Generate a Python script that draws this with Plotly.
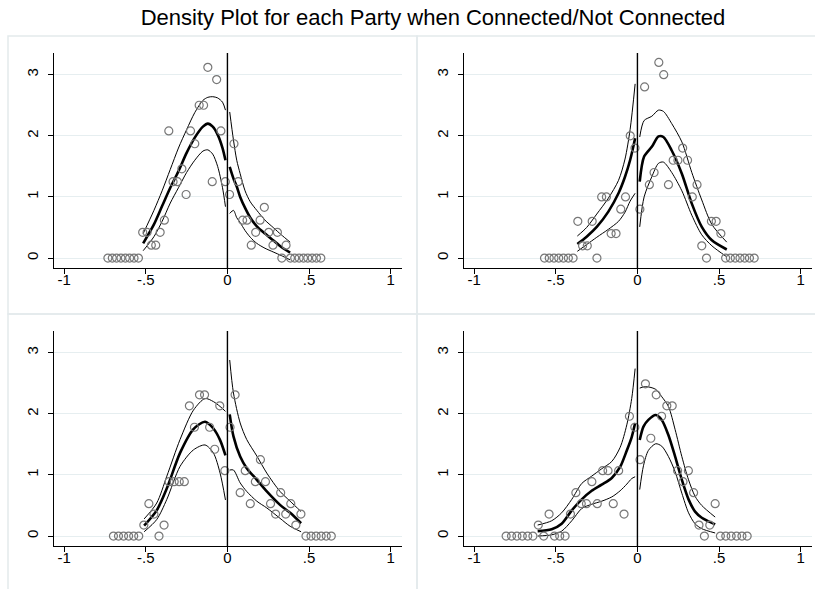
import plotly.graph_objects as go

TITLE = "Density Plot for each Party when Connected/Not Connected"

x_tick_vals = [-1, -0.5, 0, 0.5, 1]
x_tick_text = ["-1", "-.5", "0", ".5", "1"]
y_tick_vals = [0, 1, 2, 3]
y_tick_text = ["0", "1", "2", "3"]

# ---- Panel 1: binned densities ----
p1_bin_x = [-0.732, -0.705, -0.679, -0.652, -0.625, -0.599, -0.572, -0.545,
            -0.519, -0.492, -0.466, -0.439, -0.412, -0.386, -0.359, -0.333,
            -0.306, -0.279, -0.253, -0.226, -0.200, -0.173, -0.146, -0.120,
            -0.093, -0.066, -0.040, -0.013,
            0.013, 0.040, 0.066, 0.093, 0.120, 0.146, 0.173, 0.200, 0.226,
            0.253, 0.279, 0.306, 0.333, 0.359, 0.386, 0.412, 0.439, 0.466,
            0.492, 0.519, 0.545, 0.572]
p1_bin_y = [0, 0, 0, 0, 0, 0, 0, 0,
            0.42, 0.42, 0.21, 0.21, 0.42, 0.62, 2.08, 1.25,
            1.25, 1.46, 1.04, 2.08, 1.87, 2.50, 2.50, 3.12,
            1.25, 2.92, 2.08, 1.25,
            1.04, 1.87, 1.25, 0.62, 0.62, 0.21, 0.42, 0.62, 0.83,
            0.42, 0.21, 0.42, 0, 0.21, 0, 0, 0, 0,
            0, 0, 0, 0]
# local fits (left / right of the cutoff)
p1_left_x = [-0.516, -0.45, -0.40, -0.35, -0.30, -0.25, -0.20, -0.15, -0.12, -0.09, -0.06, -0.03, -0.012]
p1_left_fit = [0.24, 0.55, 0.85, 1.15, 1.42, 1.72, 1.97, 2.15, 2.20, 2.15, 2.02, 1.80, 1.60]
p1_left_hi = [0.40, 0.78, 1.10, 1.45, 1.80, 2.10, 2.38, 2.58, 2.63, 2.64, 2.62, 2.55, 2.42]
p1_left_lo = [0.12, 0.35, 0.60, 0.90, 1.15, 1.40, 1.60, 1.75, 1.77, 1.70, 1.50, 1.15, 0.84]
p1_right_x = [0.014, 0.037, 0.057, 0.078, 0.108, 0.14, 0.18, 0.23, 0.28, 0.33, 0.384]
p1_right_fit = [1.49, 1.30, 1.17, 1.00, 0.82, 0.66, 0.52, 0.40, 0.29, 0.18, 0.09]
p1_right_hi = [2.39, 1.93, 1.60, 1.38, 1.10, 0.92, 0.78, 0.62, 0.50, 0.38, 0.26]
p1_right_lo = [0.73, 0.78, 0.66, 0.58, 0.45, 0.34, 0.24, 0.16, 0.10, 0.04, -0.03]

# ---- Panel 2 ----
p2_bin_x = [-0.569, -0.540, -0.511, -0.482, -0.453, -0.423, -0.394, -0.365,
            -0.336, -0.307, -0.277, -0.248, -0.219, -0.190, -0.161, -0.131,
            -0.102, -0.073, -0.044, -0.015,
            0.015, 0.044, 0.073, 0.102, 0.131, 0.161, 0.190, 0.219, 0.248,
            0.277, 0.307, 0.336, 0.365, 0.394, 0.423, 0.453, 0.482, 0.511,
            0.540, 0.569, 0.599, 0.628, 0.657, 0.686, 0.715]
p2_bin_y = [0, 0, 0, 0, 0, 0, 0, 0.6,
            0.2, 0.2, 0.6, 0, 1.0, 1.0, 0.4, 0.4,
            0.8, 1.0, 2.0, 1.8,
            0.8, 2.8, 1.2, 1.4, 3.2, 3.0, 1.2, 1.6, 1.6,
            1.8, 1.6, 1.0, 1.2, 0.2, 0, 0.6, 0.6, 0.4,
            0, 0, 0, 0, 0, 0, 0]
p2_left_x = [-0.368, -0.311, -0.249, -0.178, -0.116, -0.076, -0.045, -0.014]
p2_left_fit = [0.23, 0.35, 0.51, 0.76, 1.06, 1.33, 1.60, 1.96]
p2_left_hi = [0.36, 0.50, 0.72, 0.98, 1.27, 1.62, 2.10, 2.85]
p2_left_lo = [0.11, 0.22, 0.34, 0.47, 0.60, 0.75, 0.93, 1.06]
p2_right_x = [0.014, 0.041, 0.088, 0.129, 0.159, 0.21, 0.272, 0.333, 0.394, 0.456, 0.547]
p2_right_fit = [1.25, 1.66, 1.82, 1.99, 1.98, 1.76, 1.38, 0.89, 0.51, 0.29, 0.14]
p2_right_hi = [1.98, 2.25, 2.32, 2.42, 2.40, 2.20, 1.90, 1.40, 0.95, 0.55, 0.26]
p2_right_lo = [0.51, 1.00, 1.33, 1.55, 1.57, 1.40, 1.10, 0.70, 0.38, 0.20, 0.02]

# ---- Panel 3 ----
p3_bin_x = [-0.698, -0.667, -0.636, -0.605, -0.574, -0.543, -0.512, -0.481,
            -0.450, -0.419, -0.388, -0.357, -0.326, -0.295, -0.264, -0.233,
            -0.202, -0.171, -0.140, -0.109, -0.078, -0.047, -0.016,
            0.016, 0.047, 0.078, 0.109, 0.140, 0.171, 0.202, 0.233, 0.264,
            0.295, 0.326, 0.357, 0.388, 0.419, 0.450, 0.481, 0.512, 0.543,
            0.574, 0.605, 0.636]
p3_bin_y = [0, 0, 0, 0, 0, 0, 0.18, 0.53,
            0.36, 0, 0.18, 0.89, 0.89, 0.89, 0.89, 2.13,
            1.78, 2.31, 2.31, 1.78, 1.42, 2.13, 1.07,
            1.78, 2.31, 0.71, 1.07, 0.53, 0.89, 1.25, 0.89, 0.53,
            0.36, 0.71, 0.36, 0.53, 0.18, 0.36, 0, 0, 0,
            0, 0, 0]
p3_left_x = [-0.51, -0.433, -0.371, -0.29, -0.208, -0.137, -0.086, -0.045, -0.012]
p3_left_fit = [0.17, 0.42, 0.78, 1.36, 1.75, 1.87, 1.76, 1.57, 1.32]
p3_left_hi = [0.28, 0.54, 0.98, 1.58, 2.06, 2.25, 2.20, 2.12, 2.04]
p3_left_lo = [0.07, 0.27, 0.60, 1.14, 1.41, 1.49, 1.36, 1.03, 0.59]
p3_right_x = [0.014, 0.037, 0.078, 0.118, 0.18, 0.241, 0.322, 0.384, 0.451]
p3_right_fit = [1.99, 1.63, 1.30, 1.11, 0.92, 0.73, 0.51, 0.38, 0.21]
p3_right_hi = [2.88, 2.34, 1.85, 1.58, 1.31, 1.03, 0.73, 0.57, 0.40]
p3_right_lo = [1.08, 1.08, 0.87, 0.73, 0.57, 0.46, 0.29, 0.16, 0.07]

# ---- Panel 4 ----
p4_bin_x = [-0.804, -0.771, -0.738, -0.705, -0.672, -0.640, -0.607, -0.574,
            -0.541, -0.508, -0.476, -0.443, -0.410, -0.377, -0.344, -0.312,
            -0.279, -0.246, -0.213, -0.180, -0.148, -0.115, -0.082, -0.049,
            -0.016,
            0.016, 0.049, 0.082, 0.115, 0.148, 0.180, 0.213, 0.246, 0.279,
            0.312, 0.344, 0.377, 0.410, 0.443, 0.476, 0.508, 0.541, 0.574,
            0.607, 0.640, 0.672]
p4_bin_y = [0, 0, 0, 0, 0, 0, 0.18, 0,
            0.36, 0, 0, 0, 0.36, 0.71, 0.53, 0.53,
            0.89, 0.53, 1.07, 1.07, 0.53, 1.07, 0.36, 1.96,
            1.78,
            1.25, 2.49, 1.60, 2.31, 1.96, 2.13, 2.13, 1.07, 0.89,
            1.07, 0.71, 0.18, 0, 0.18, 0.53, 0, 0, 0,
            0, 0, 0]
p4_left_x = [-0.611, -0.525, -0.464, -0.402, -0.341, -0.28, -0.219, -0.157, -0.106, -0.065, -0.035, -0.014]
p4_left_fit = [0.08, 0.11, 0.20, 0.42, 0.60, 0.74, 0.84, 0.95, 1.13, 1.40, 1.62, 1.85]
p4_left_hi = [0.18, 0.25, 0.38, 0.60, 0.86, 0.98, 1.10, 1.22, 1.45, 1.82, 2.25, 2.74]
p4_left_lo = [0.00, 0.02, 0.08, 0.25, 0.45, 0.52, 0.57, 0.64, 0.74, 0.85, 0.94, 0.97]
p4_right_x = [0.014, 0.037, 0.067, 0.112, 0.149, 0.19, 0.231, 0.272, 0.313, 0.353, 0.394, 0.476]
p4_right_fit = [1.57, 1.79, 1.90, 1.98, 1.90, 1.65, 1.30, 0.92, 0.60, 0.40, 0.30, 0.19]
p4_right_hi = [2.42, 2.44, 2.44, 2.40, 2.28, 2.12, 1.74, 1.30, 0.92, 0.65, 0.50, 0.31]
p4_right_lo = [0.76, 1.15, 1.40, 1.51, 1.47, 1.30, 1.05, 0.70, 0.38, 0.20, 0.12, 0.05]

panels = [
    (p1_bin_x, p1_bin_y, p1_left_x, p1_left_fit, p1_left_hi, p1_left_lo,
     p1_right_x, p1_right_fit, p1_right_hi, p1_right_lo),
    (p2_bin_x, p2_bin_y, p2_left_x, p2_left_fit, p2_left_hi, p2_left_lo,
     p2_right_x, p2_right_fit, p2_right_hi, p2_right_lo),
    (p3_bin_x, p3_bin_y, p3_left_x, p3_left_fit, p3_left_hi, p3_left_lo,
     p3_right_x, p3_right_fit, p3_right_hi, p3_right_lo),
    (p4_bin_x, p4_bin_y, p4_left_x, p4_left_fit, p4_left_hi, p4_left_lo,
     p4_right_x, p4_right_fit, p4_right_hi, p4_right_lo),
]

W, H = 815, 589
FONT = "Liberation Sans, Arial, sans-serif"
GRID = "#e6eef0"
FRAME = "#e3eaec"
MARKER = "#777777"

# plot regions in pixels: (left, right, top, bottom)
regions = [
    (54, 402, 53, 268),
    (464, 812, 53, 268),
    (54, 402, 331, 546),
    (464, 812, 331, 546),
]
# outer panel frames in pixels: (left, top, right, bottom)
frames = [
    (8, 36, 417, 314),
    (417, 36, 826, 314),
    (8, 314, 417, 592),
    (417, 314, 826, 592),
]

fig = go.Figure()
shapes = []

for i, (p, reg) in enumerate(zip(panels, regions)):
    bx, by, lx, lf, lh, ll, rx, rf, rh, rl = p
    n = "" if i == 0 else str(i + 1)
    xa, ya = "x" + n, "y" + n

    for xs, ys, w in [(lx, lh, 1.0), (lx, ll, 1.0), (lx, lf, 2.6),
                      (rx, rh, 1.0), (rx, rl, 1.0), (rx, rf, 2.6)]:
        fig.add_trace(go.Scatter(
            x=xs, y=ys, mode="lines", xaxis=xa, yaxis=ya,
            line=dict(color="black", width=w, shape="spline", smoothing=0.8),
            showlegend=False, hoverinfo="skip"))

    fig.add_trace(go.Scatter(
        x=bx, y=by, mode="markers", xaxis=xa, yaxis=ya,
        marker=dict(symbol="circle-open", size=8, color=MARKER,
                    line=dict(width=1.2, color=MARKER)),
        showlegend=False, cliponaxis=False))

    left, right, top, bottom = reg
    xdom = [left / W, right / W]
    ydom = [1 - bottom / H, 1 - top / H]
    common = dict(showline=True, linecolor="black", linewidth=1,
                  ticks="outside", ticklen=5, tickcolor="black", tickwidth=1,
                  tickfont=dict(family=FONT, size=15, color="black"),
                  zeroline=False, mirror=False, fixedrange=True)
    fig.update_layout(**{
        "xaxis" + n: dict(domain=xdom, range=[-1.062, 1.069], anchor=ya,
                          tickvals=x_tick_vals, ticktext=x_tick_text,
                          showgrid=False, ticklabelstandoff=-7, **common),
        "yaxis" + n: dict(domain=ydom, range=[-0.163, 3.355], anchor=xa,
                          tickvals=y_tick_vals, ticktext=y_tick_text,
                          showgrid=True, gridcolor=GRID, gridwidth=1,
                          tickangle=-90, ticklabelstandoff=4, **common),
    })

    # cutoff line at zero
    shapes.append(dict(type="line", xref=xa, yref=ya + " domain",
                       x0=0, x1=0, y0=0, y1=1,
                       line=dict(color="black", width=1.4)))

for (l, t, r, b) in frames:
    shapes.append(dict(type="rect", xref="paper", yref="paper",
                       x0=l / W, x1=r / W, y0=1 - b / H, y1=1 - t / H,
                       line=dict(color=FRAME, width=1.5), layer="below"))

fig.update_layout(
    width=W, height=H,
    margin=dict(l=0, r=0, t=0, b=0),
    paper_bgcolor="white", plot_bgcolor="white",
    shapes=shapes,
    title=dict(text=TITLE, x=433 / W, xanchor="center", y=1 - 17 / H,
               yanchor="middle",
               font=dict(family=FONT, size=22, color="black")),
)

fig.write_html("out.html")
